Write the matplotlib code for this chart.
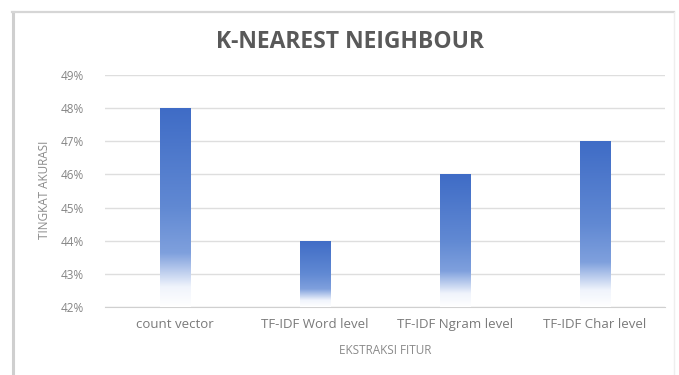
import numpy as np
import matplotlib
matplotlib.use("Agg")
import matplotlib.pyplot as plt
from matplotlib.colors import LinearSegmentedColormap
from matplotlib.lines import Line2D

# data
categories = ["count vector", "TF-IDF Word level", "TF-IDF Ngram level", "TF-IDF Char level"]
akurasi = [48, 44, 46, 47]
y_ticks = [42, 43, 44, 45, 46, 47, 48, 49]

TITLE = "K-NEAREST NEIGHBOUR"
X_LABEL = "EKSTRAKSI FITUR"
Y_LABEL = "TINGKAT AKURASI"

plt.rcParams['font.family'] = ['Open Sans', 'DejaVu Sans']

fig = plt.figure(figsize=(6.79, 3.75), dpi=100)
fig.patch.set_facecolor("white")

# chart frame (left, top, right edges)
W, H = 679, 375
def fline(xs, ys, c, lw):
    fig.lines.append(Line2D([x / W for x in xs], [1 - y / H for y in ys],
                            transform=fig.transFigure, color=c, linewidth=lw))
fline([12.5, 12.5], [12, 375], "#cfcfcf", 2.2)
fline([12, 674], [12, 12], "#d6d6d6", 1.6)
fline([674, 674], [12, 375], "#eeeeee", 1.0)

ax = fig.add_axes([105 / W, 1 - 307 / H, 560 / W, 232 / H])

# gradient bars: blue at top, fading to white at the base
cmap = LinearSegmentedColormap.from_list(
    "bar_grad", [(0.0, "#ffffff"), (0.1, "#f0f4fc"), (0.27, "#7fa0dd"),
                 (0.5, "#6189d3"), (1.0, "#3f6cc6")])
grad = np.linspace(0, 1, 256).reshape(-1, 1)
bar_w = 0.215
bars = ax.bar(range(len(categories)), np.array(akurasi) - 42, bottom=42,
              width=bar_w, color="none", zorder=3)
for b in bars:
    x0, y0 = b.get_x(), b.get_y()
    im = ax.imshow(grad, cmap=cmap, aspect="auto", origin="lower",
                   extent=(x0, x0 + b.get_width(), y0, y0 + b.get_height()),
                   zorder=3)
    im.set_clip_path(b)

ax.set_xlim(-0.5, len(categories) - 0.5)
ax.set_ylim(42, 49)

ax.set_yticks(y_ticks)
ax.set_yticklabels([f"{t}%" for t in y_ticks], color="#858585", fontsize=8.5)
ax.set_xticks(range(len(categories)))
ax.set_xticklabels(categories, color="#7a7a7a", fontsize=9.5)
ax.tick_params(axis="x", length=0, pad=8)
ax.tick_params(axis="y", length=0, pad=15)
ax.grid(axis="y", color="#dedede", linewidth=1)
ax.set_axisbelow(True)
for s in ["top", "right", "left"]:
    ax.spines[s].set_visible(False)
ax.spines["bottom"].set_color("#d0d0d0")

fig.text(350 / W, 1 - 42 / H, TITLE, ha="center", va="center",
         fontsize=16.5, fontweight="bold", color="#595959")
fig.text(385 / W, 1 - 351 / H, X_LABEL, ha="center", va="center",
         fontsize=8.5, color="#8a8a8a")
fig.text(44 / W, 1 - 190 / H, Y_LABEL, ha="center", va="center",
         rotation=90, fontsize=8.5, color="#8a8a8a")

fig.savefig("out.png", dpi=100, facecolor="white")
